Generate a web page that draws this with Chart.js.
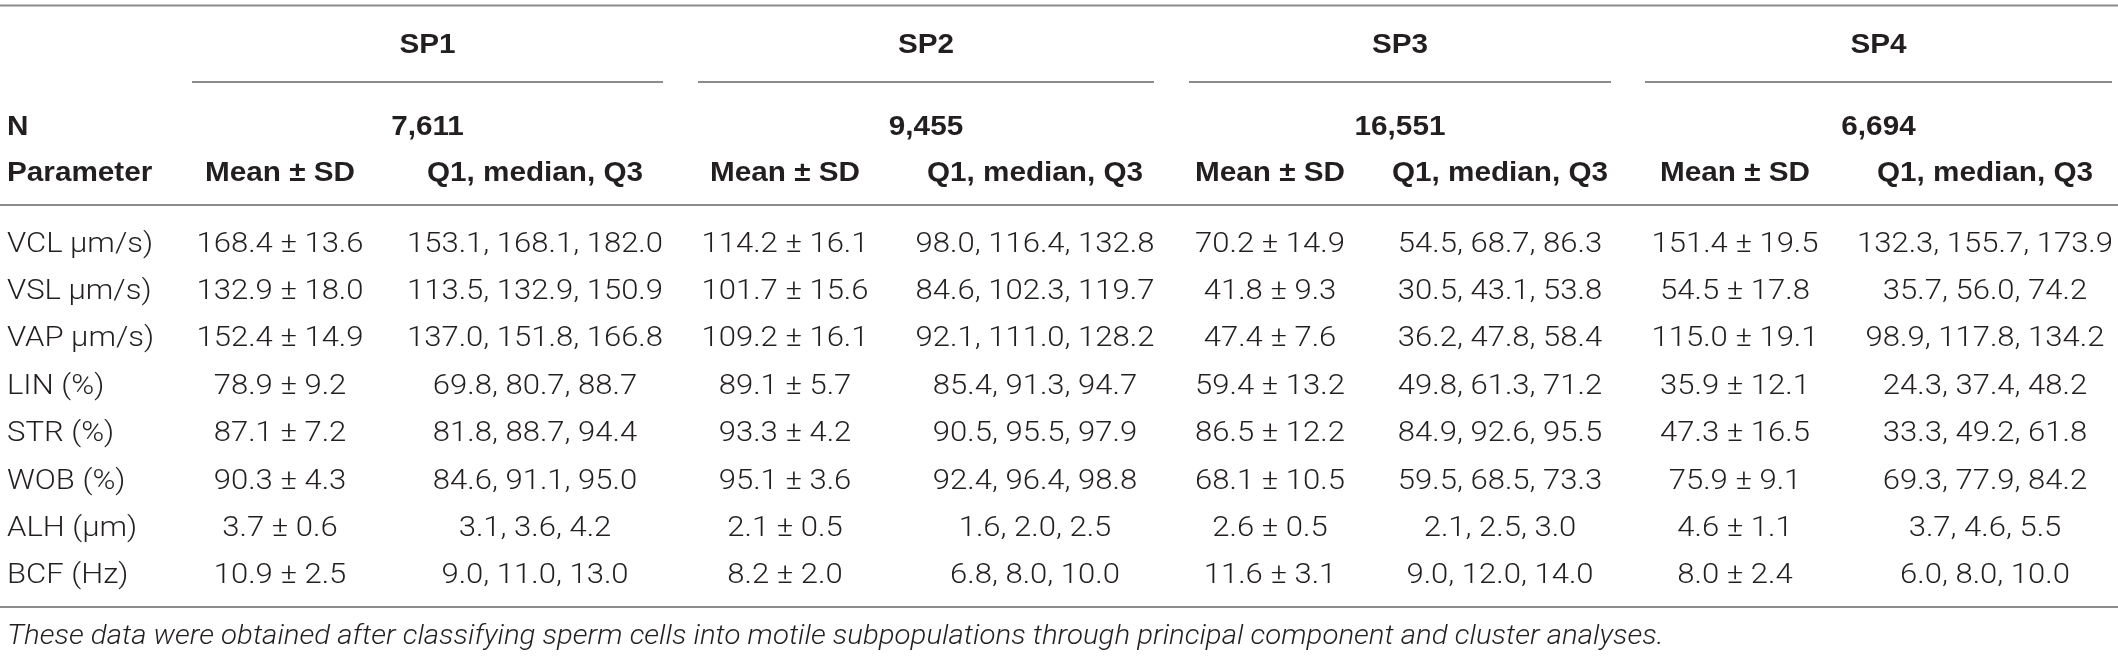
<!DOCTYPE html>
<html>
<head>
<meta charset="utf-8">
<script src="https://cdn.jsdelivr.net/npm/chart.js@4.4.1/dist/chart.umd.min.js"></script>
<style>
  html, body { margin: 0; padding: 0; background: #fff; }
  #wrap { width: 2118px; height: 657px; }
</style>
</head>
<body>
<div id="wrap"><canvas id="myChart" width="2118" height="657"></canvas></div>
<script>
// table data
const groups = ['SP1', 'SP2', 'SP3', 'SP4'];
const nCounts = ['7,611', '9,455', '16,551', '6,694'];
const params = ['VCL µm/s)', 'VSL µm/s)', 'VAP µm/s)', 'LIN (%)', 'STR (%)', 'WOB (%)', 'ALH (µm)', 'BCF (Hz)'];

const meanSP1 = [168.4, 132.9, 152.4, 78.9, 87.1, 90.3, 3.7, 10.9];
const sdSP1 = [13.6, 18.0, 14.9, 9.2, 7.2, 4.3, 0.6, 2.5];
const q1SP1 = [153.1, 113.5, 137.0, 69.8, 81.8, 84.6, 3.1, 9.0];
const medSP1 = [168.1, 132.9, 151.8, 80.7, 88.7, 91.1, 3.6, 11.0];
const q3SP1 = [182.0, 150.9, 166.8, 88.7, 94.4, 95.0, 4.2, 13.0];

const meanSP2 = [114.2, 101.7, 109.2, 89.1, 93.3, 95.1, 2.1, 8.2];
const sdSP2 = [16.1, 15.6, 16.1, 5.7, 4.2, 3.6, 0.5, 2.0];
const q1SP2 = [98.0, 84.6, 92.1, 85.4, 90.5, 92.4, 1.6, 6.8];
const medSP2 = [116.4, 102.3, 111.0, 91.3, 95.5, 96.4, 2.0, 8.0];
const q3SP2 = [132.8, 119.7, 128.2, 94.7, 97.9, 98.8, 2.5, 10.0];

const meanSP3 = [70.2, 41.8, 47.4, 59.4, 86.5, 68.1, 2.6, 11.6];
const sdSP3 = [14.9, 9.3, 7.6, 13.2, 12.2, 10.5, 0.5, 3.1];
const q1SP3 = [54.5, 30.5, 36.2, 49.8, 84.9, 59.5, 2.1, 9.0];
const medSP3 = [68.7, 43.1, 47.8, 61.3, 92.6, 68.5, 2.5, 12.0];
const q3SP3 = [86.3, 53.8, 58.4, 71.2, 95.5, 73.3, 3.0, 14.0];

const meanSP4 = [151.4, 54.5, 115.0, 35.9, 47.3, 75.9, 4.6, 8.0];
const sdSP4 = [19.5, 17.8, 19.1, 12.1, 16.5, 9.1, 1.1, 2.4];
const q1SP4 = [132.3, 35.7, 98.9, 24.3, 33.3, 69.3, 3.7, 6.0];
const medSP4 = [155.7, 56.0, 117.8, 37.4, 49.2, 77.9, 4.6, 8.0];
const q3SP4 = [173.9, 74.2, 134.2, 48.2, 61.8, 84.2, 5.5, 10.0];

const footnote = 'These data were obtained after classifying sperm cells into motile subpopulations through principal component and cluster analyses.';

const means = [meanSP1, meanSP2, meanSP3, meanSP4];
const sds = [sdSP1, sdSP2, sdSP3, sdSP4];
const q1s = [q1SP1, q1SP2, q1SP3, q1SP4];
const meds = [medSP1, medSP2, medSP3, medSP4];
const q3s = [q3SP1, q3SP2, q3SP3, q3SP4];

// layout (scale units = px of the reference)
const colMean = [280, 785, 1270, 1735];
const colQuart = [535, 1035, 1500, 1985];
const groupSpan = [[192, 663], [698, 1154], [1189, 1611], [1645, 2112]];
const rowY0 = 242, rowStep = 47.4;

const BOLD_FONT = '"Liberation Sans", Arial, sans-serif';
const LIGHT_FONT = 'Roboto, "Liberation Sans", Arial, sans-serif';
const TXT = '#231f20';
const RULE = '#8c8c8c';

const tablePlugin = {
    id: 'tablePlugin',
    afterDraw(chart) {
        const ctx = chart.ctx;
        const x = chart.scales.x;
        const y = chart.scales.y;
        const px = v => x.getPixelForValue(v);
        const py = v => y.getPixelForValue(v);
        ctx.save();

        const hline = (x0, x1, yy) => {
            ctx.strokeStyle = RULE;
            ctx.lineWidth = 2;
            ctx.beginPath();
            ctx.moveTo(px(x0), py(yy));
            ctx.lineTo(px(x1), py(yy));
            ctx.stroke();
        };
        // yy is the centre of the capitals; the source type is a little wide, so stretch it
        const text = (s, xx, yy, align, st) => {
            ctx.save();
            ctx.translate(px(xx), py(yy) + 9.6);
            ctx.scale(st.sx, 1);
            ctx.font = st.font;
            ctx.fillStyle = TXT;
            ctx.textAlign = align;
            ctx.textBaseline = 'alphabetic';
            ctx.fillText(s, 0, 0);
            ctx.restore();
        };

        const bold = { font: 'bold 27px ' + BOLD_FONT, sx: 1.1 };
        const reg = { font: '300 27px ' + LIGHT_FONT, sx: 1.15 };
        const note = { font: 'italic 300 27px ' + LIGHT_FONT, sx: 1.09 };

        hline(0, 2118, 5.5);
        hline(0, 2118, 205);
        hline(0, 2118, 607);

        groups.forEach((g, i) => {
            const c = (groupSpan[i][0] + groupSpan[i][1]) / 2;
            text(g, c, 43, 'center', bold);
            hline(groupSpan[i][0], groupSpan[i][1], 82);
            text(nCounts[i], c, 125, 'center', bold);
            text('Mean ± SD', colMean[i], 171, 'center', bold);
            text('Q1, median, Q3', colQuart[i], 171, 'center', bold);
        });
        text('N', 7, 125, 'left', bold);
        text('Parameter', 7, 171, 'left', bold);

        params.forEach((p, r) => {
            const yy = rowY0 + r * rowStep;
            text(p, 7, yy, 'left', reg);
            for (let i = 0; i < groups.length; i++) {
                text(means[i][r].toFixed(1) + ' ± ' + sds[i][r].toFixed(1), colMean[i], yy, 'center', reg);
                text(q1s[i][r].toFixed(1) + ', ' + meds[i][r].toFixed(1) + ', ' + q3s[i][r].toFixed(1), colQuart[i], yy, 'center', reg);
            }
        });

        text(footnote, 7, 634, 'left', note);
        ctx.restore();
    }
};

const ctx = document.getElementById('myChart');
const myChart = new Chart(ctx, {
    type: 'scatter',
    data: {
        datasets: [{
            data: [],
            pointRadius: 0,
        }]
    },
    options: {
        responsive: false,
        animation: false,
        devicePixelRatio: 1,
        layout: { padding: 0 },
        plugins: {
            legend: { display: false },
            tooltip: { enabled: false },
        },
        scales: {
            x: { type: 'linear', min: 0, max: 2118, display: false },
            y: { type: 'linear', min: 0, max: 657, reverse: true, display: false },
        }
    },
    plugins: [tablePlugin]
});
</script>
</body>
</html>
